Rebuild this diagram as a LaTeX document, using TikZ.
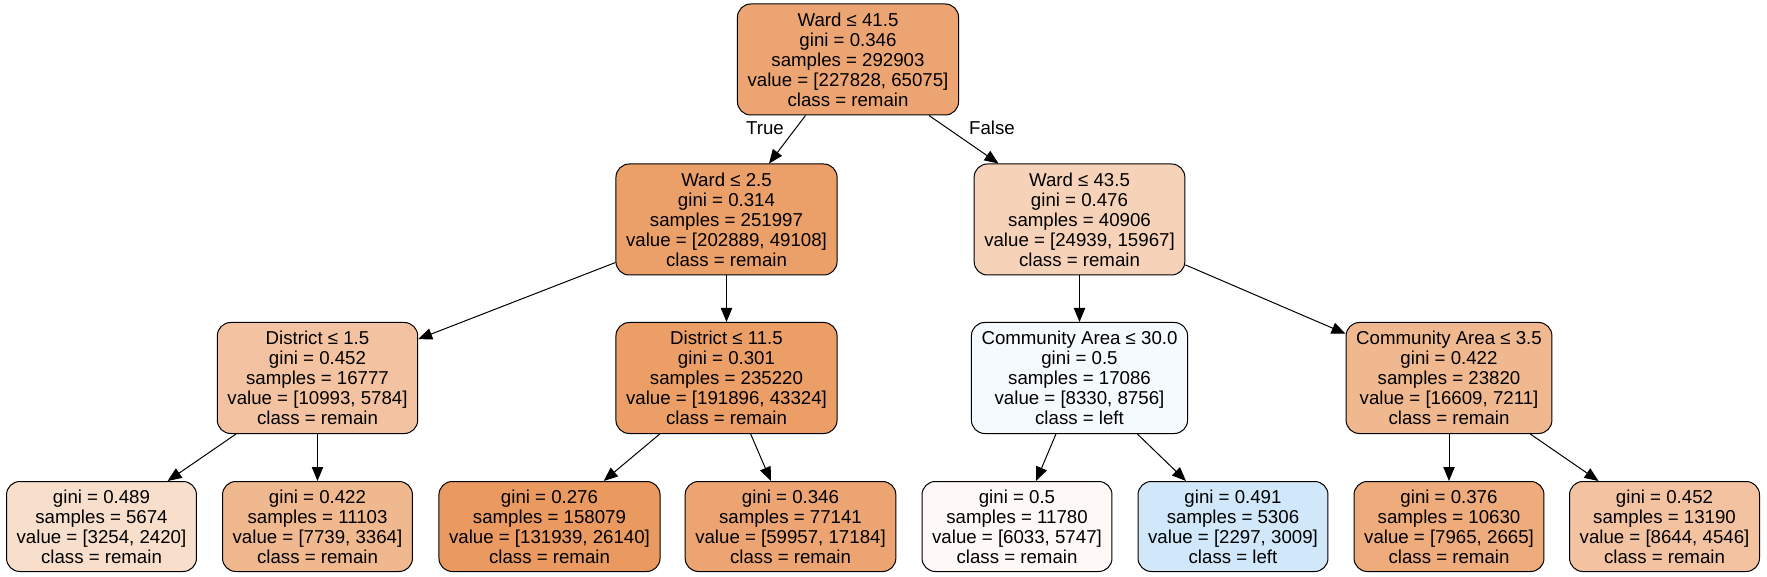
\documentclass[tikz,border=0pt]{standalone}
\usepackage{fontspec}
\setmainfont{Liberation Sans}
\usetikzlibrary{arrows.meta}
\definecolor{rootBack}    {HTML}{ECA572}
\definecolor{wardLoBack}  {HTML}{EB9F69}
\definecolor{wardHiBack}  {HTML}{F6D2B8}
\definecolor{distLoBack}  {HTML}{F3C3A1}
\definecolor{distHiBack}  {HTML}{EB9E66}
\definecolor{areaLoBack}  {HTML}{F5FAFE}
\definecolor{areaHiBack}  {HTML}{F0B88F}
\definecolor{leafABack}   {HTML}{F8DFCC}
\definecolor{leafBBack}   {HTML}{F0B88F}
\definecolor{leafCBack}   {HTML}{EA9A60}
\definecolor{leafDBack}   {HTML}{ECA572}
\definecolor{leafEBack}   {HTML}{FEF9F6}
\definecolor{leafFBack}   {HTML}{D0E8F9}
\definecolor{leafGBack}   {HTML}{EEAB7B}
\definecolor{leafHBack}   {HTML}{F3C3A1}

\begin{document}
\begin{tikzpicture}[
    x=0.75pt, y=-0.75pt,
    every node/.style={font=\fontsize{14}{15}\selectfont},
    split/.style={draw, rounded corners=10pt, align=center, inner xsep=7.6pt,
                  inner ysep=2pt, minimum height=83.25pt, line width=0.75pt},
    leaf/.style={split, minimum height=67.5pt},
    arr/.style={-{Triangle[length=10.5pt, width=8.5pt]}, line width=0.75pt}
]
\useasboundingbox (0,0) rectangle (1767,577);
% Root
\node[split, fill=rootBack] (root) at (848, 59.5)
    {Ward ≤ 41.5\\gini = 0.346\\samples = 292903\\value = [227828, 65075]\\class = remain};
% Depth 1
\node[split, fill=wardLoBack] (wardLo) at (726.5, 219.5)
    {Ward ≤ 2.5\\gini = 0.314\\samples = 251997\\value = [202889, 49108]\\class = remain};
\node[split, fill=wardHiBack] (wardHi) at (1079.5, 219.5)
    {Ward ≤ 43.5\\gini = 0.476\\samples = 40906\\value = [24939, 15967]\\class = remain};
% Depth 2
\node[split, fill=distLoBack] (distLo) at (317.5, 378)
    {District ≤ 1.5\\gini = 0.452\\samples = 16777\\value = [10993, 5784]\\class = remain};
\node[split, fill=distHiBack] (distHi) at (726.5, 378)
    {District ≤ 11.5\\gini = 0.301\\samples = 235220\\value = [191896, 43324]\\class = remain};
\node[split, fill=areaLoBack] (areaLo) at (1079.5, 378)
    {Community Area ≤ 30.0\\gini = 0.5\\samples = 17086\\value = [8330, 8756]\\class = left};
\node[split, fill=areaHiBack] (areaHi) at (1449, 378)
    {Community Area ≤ 3.5\\gini = 0.422\\samples = 23820\\value = [16609, 7211]\\class = remain};
% Leaves
\node[leaf, fill=leafABack] (leafA) at (101.5, 526.5)
    {gini = 0.489\\samples = 5674\\value = [3254, 2420]\\class = remain};
\node[leaf, fill=leafBBack] (leafB) at (317.5, 526.5)
    {gini = 0.422\\samples = 11103\\value = [7739, 3364]\\class = remain};
\node[leaf, fill=leafCBack] (leafC) at (549.5, 526.5)
    {gini = 0.276\\samples = 158079\\value = [131939, 26140]\\class = remain};
\node[leaf, fill=leafDBack] (leafD) at (790.5, 526.5)
    {gini = 0.346\\samples = 77141\\value = [59957, 17184]\\class = remain};
\node[leaf, fill=leafEBack] (leafE) at (1017, 526.5)
    {gini = 0.5\\samples = 11780\\value = [6033, 5747]\\class = remain};
\node[leaf, fill=leafFBack] (leafF) at (1233, 526.5)
    {gini = 0.491\\samples = 5306\\value = [2297, 3009]\\class = left};
\node[leaf, fill=leafGBack] (leafG) at (1449, 526.5)
    {gini = 0.376\\samples = 10630\\value = [7965, 2665]\\class = remain};
\node[leaf, fill=leafHBack] (leafH) at (1664.5, 526.5)
    {gini = 0.452\\samples = 13190\\value = [8644, 4546]\\class = remain};
% Edges
\foreach \a/\b in {root/wardLo, root/wardHi, wardLo/distLo, wardLo/distHi,
                   wardHi/areaLo, wardHi/areaHi, distLo/leafA, distLo/leafB,
                   distHi/leafC, distHi/leafD, areaLo/leafE, areaLo/leafF,
                   areaHi/leafG, areaHi/leafH} {
    \draw[arr] (\a) -- (\b);
}
\node (lblTrue) at (765, 128) {True};
\node (lblFalse) at (992, 128) {False};
\end{tikzpicture}
\end{document}
